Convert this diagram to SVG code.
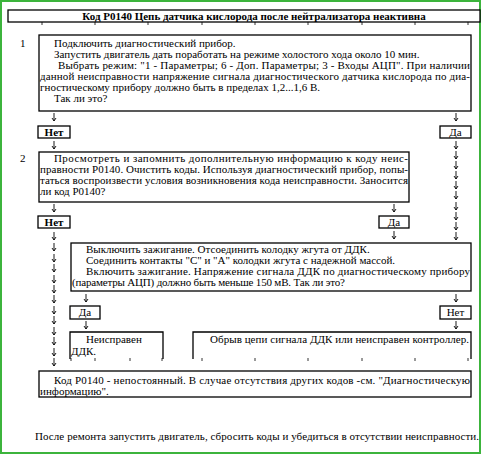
<svg xmlns="http://www.w3.org/2000/svg" xmlns:xlink="http://www.w3.org/1999/xlink" width="482" height="455" viewBox="0 0 482 455">
<style>
text{font-family:"Liberation Serif","Times New Roman",serif;font-size:11px;fill:#000}
.b{font-weight:bold}
.box{fill:#fff;stroke:#000;stroke-width:1.3}
.open{fill:none;stroke:#000;stroke-width:1.3}
.tick{stroke:#000;stroke-width:0.8}
</style>
<defs>
<path id="dn" d="M0,0V8M-2,5L0,8L2,5" fill="none" stroke="#000" stroke-width="0.9"/>
</defs>
<rect x="0" y="0" width="482" height="455" fill="#fff"/>
<rect x="1" y="1" width="479" height="452" fill="none" stroke="#3cb43c" stroke-width="2"/>

<g id="title">
<rect class="box" x="8" y="10" width="472" height="12"/>
<text class="b" x="254" y="20" text-anchor="middle">Код P0140 Цепь датчика кислорода после нейтрализатора неактивна</text>
<g class="tick">
<line x1="42" y1="22" x2="42" y2="25"/><line x1="95" y1="22" x2="95" y2="25"/><line x1="148" y1="22" x2="148" y2="25"/><line x1="202" y1="22" x2="202" y2="25"/><line x1="255" y1="22" x2="255" y2="25"/><line x1="308" y1="22" x2="308" y2="25"/><line x1="362" y1="22" x2="362" y2="25"/><line x1="415" y1="22" x2="415" y2="25"/><line x1="468" y1="22" x2="468" y2="25"/>
</g>
</g>

<g id="step1">
<text x="20" y="47">1</text>
<rect class="box" x="39" y="35" width="432" height="76"/>
<text x="54" y="47">Подключить диагностический прибор.</text>
<text x="54" y="58">Запустить двигатель дать поработать на режиме холостого хода около 10 мин.</text>
<text x="58" y="69" textLength="412" lengthAdjust="spacing">Выбрать режим: "1 - Параметры; 6 - Доп. Параметры; 3 - Входы АЦП". При наличии</text>
<text x="40" y="80" textLength="430" lengthAdjust="spacing">данной неисправности напряжение сигнала диагностического датчика кислорода по диа-</text>
<text x="40" y="91">гностическому прибору должно быть в пределах 1,2...1,6 В.</text>
<text x="54" y="102">Так ли это?</text>
</g>

<g id="no1"><rect class="box" x="38" y="126" width="32" height="12"/><text class="b" x="54" y="135.5" text-anchor="middle">Нет</text></g>
<g id="yes1"><rect class="box" x="440" y="126" width="31" height="12"/><text x="455.5" y="135.5" text-anchor="middle">Да</text></g>

<g id="step2">
<text x="20" y="162">2</text>
<rect class="box" x="39" y="152" width="370" height="50"/>
<text x="54" y="162" textLength="354" lengthAdjust="spacing">Просмотреть и запомнить дополнительную информацию к коду неис-</text>
<text x="40" y="173" textLength="368" lengthAdjust="spacing">правности P0140. Очистить коды. Используя диагностический прибор, попы-</text>
<text x="40" y="184" textLength="368" lengthAdjust="spacing">таться воспроизвести условия возникновения кода неисправности. Заносится</text>
<text x="40" y="195">ли код P0140?</text>
</g>

<g id="no2"><rect class="box" x="38" y="216" width="32" height="12"/><text class="b" x="54" y="225.5" text-anchor="middle">Нет</text></g>
<g id="yes2"><rect class="box" x="379" y="216" width="30" height="12"/><text x="394" y="225.5" text-anchor="middle">Да</text></g>

<g id="step3">
<rect class="box" x="71" y="243" width="400" height="48"/>
<text x="86" y="253">Выключить зажигание. Отсоединить колодку жгута от ДДК.</text>
<text x="86" y="264" textLength="309" lengthAdjust="spacing">Соединить контакты "С" и "А" колодки жгута с надежной массой.</text>
<text x="86" y="275" textLength="384" lengthAdjust="spacing">Включить зажигание. Напряжение сигнала ДДК по диагностическому прибору</text>
<text x="72" y="286" textLength="273" lengthAdjust="spacing">(параметры АЦП) должно быть меньше 150 мВ. Так ли это?</text>
</g>

<g id="yes3"><rect class="box" x="70" y="306" width="30" height="13"/><text x="85" y="316" text-anchor="middle">Да</text></g>
<g id="no3"><rect class="box" x="440" y="306" width="31" height="13"/><text x="455.5" y="316" text-anchor="middle">Нет</text></g>

<g id="res-ddk">
<path class="open" d="M70,359V332H163V359"/>
<text x="86" y="343">Неисправен</text>
<text x="71" y="355">ДДК.</text>
</g>
<g id="res-circuit">
<path class="open" d="M193,359V332H471V359"/>
<text x="210" y="343" textLength="259" lengthAdjust="spacing">Обрыв цепи сигнала ДДК или неисправен контроллер.</text>
</g>
<g class="tick">
<line x1="71" y1="358" x2="71" y2="361"/><line x1="95" y1="358" x2="95" y2="361"/><line x1="130" y1="358" x2="130" y2="361"/><line x1="162" y1="358" x2="162" y2="361"/>
<line x1="202" y1="358" x2="202" y2="361"/><line x1="255" y1="358" x2="255" y2="361"/><line x1="308" y1="358" x2="308" y2="361"/><line x1="362" y1="358" x2="362" y2="361"/><line x1="415" y1="358" x2="415" y2="361"/><line x1="468" y1="358" x2="468" y2="361"/>
</g>

<g id="step4">
<rect class="box" x="39" y="371" width="432" height="26"/>
<text x="54" y="384" textLength="416" lengthAdjust="spacing">Код P0140 - непостоянный. В случае отсутствия других кодов -см. "Диагностическую</text>
<text x="40" y="395">информацию".</text>
</g>

<g id="footer">
<text x="35" y="440" textLength="444" lengthAdjust="spacing">После ремонта запустить двигатель, сбросить коды и убедиться в отсутствии неисправности.</text>
</g>

<g id="connectors">
<use xlink:href="#dn" x="54" y="113"/>
<use xlink:href="#dn" x="54" y="141"/>
<use xlink:href="#dn" x="54" y="204"/>
<use xlink:href="#dn" x="54" y="232"/>
<use xlink:href="#dn" x="54" y="243"/>
<use xlink:href="#dn" x="54" y="254"/>
<use xlink:href="#dn" x="54" y="264"/>
<use xlink:href="#dn" x="54" y="275"/>
<use xlink:href="#dn" x="54" y="285"/>
<use xlink:href="#dn" x="54" y="295"/>
<use xlink:href="#dn" x="54" y="306"/>
<use xlink:href="#dn" x="54" y="316"/>
<use xlink:href="#dn" x="54" y="327"/>
<use xlink:href="#dn" x="54" y="337"/>
<use xlink:href="#dn" x="54" y="348"/>
<use xlink:href="#dn" x="54" y="358"/>
<use xlink:href="#dn" x="456" y="113"/>
<use xlink:href="#dn" x="456" y="141"/>
<use xlink:href="#dn" x="456" y="151"/>
<use xlink:href="#dn" x="456" y="161"/>
<use xlink:href="#dn" x="456" y="171"/>
<use xlink:href="#dn" x="456" y="181"/>
<use xlink:href="#dn" x="456" y="191"/>
<use xlink:href="#dn" x="456" y="202"/>
<use xlink:href="#dn" x="456" y="212"/>
<use xlink:href="#dn" x="456" y="222"/>
<use xlink:href="#dn" x="456" y="232"/>
<use xlink:href="#dn" x="394" y="204"/>
<use xlink:href="#dn" x="394" y="231"/>
<use xlink:href="#dn" x="86" y="294"/>
<use xlink:href="#dn" x="86" y="321"/>
<use xlink:href="#dn" x="456" y="294"/>
<use xlink:href="#dn" x="456" y="321"/>
</g>
</svg>
